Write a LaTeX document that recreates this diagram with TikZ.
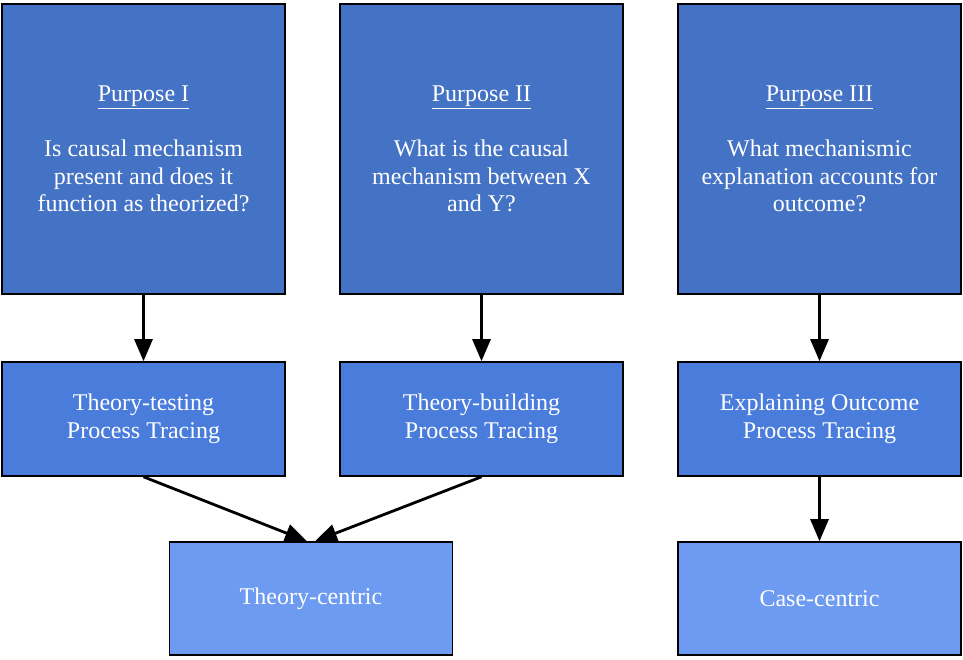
\documentclass[tikz,border=0pt]{standalone}
\usepackage{fontspec}
\setmainfont{Liberation Serif}
\usetikzlibrary{arrows.meta}
\definecolor{topblue}{RGB}{68,114,196}
\definecolor{midblue}{RGB}{74,124,220}
\definecolor{lowblue}{RGB}{109,155,241}
\tikzset{
  box/.style={draw=black, line width=1.6pt, text=white, align=center,
    font=\fontsize{24}{27.5}\selectfont, inner sep=0pt, minimum width=283pt},
  topbox/.style={box, fill=topblue, minimum height=290pt},
  midbox/.style={box, fill=midblue, minimum height=114pt},
  lowbox/.style={box, fill=lowblue, minimum height=113pt},
  conn/.style={line width=2.8pt, -{Triangle[length=22pt,width=18pt]}},
}
\begin{document}
\begin{tikzpicture}[x=1pt,y=-1pt]
\useasboundingbox (0,0) rectangle (963,659);
\node[topbox] (p1) at (143.5,149) {\underline{Purpose I}\\[27.5pt]Is causal mechanism\\present and does it\\function as theorized?};
\node[topbox] (p2) at (481.5,149) {\underline{Purpose II}\\[27.5pt]What is the causal\\mechanism between X\\and Y?};
\node[topbox] (p3) at (819.5,149) {\underline{Purpose III}\\[27.5pt]What mechanismic\\explanation accounts for\\outcome?};
\node[midbox] (t1) at (143.5,419) {Theory-testing\\Process Tracing};
\node[midbox] (t2) at (481.5,419) {Theory-building\\Process Tracing};
\node[midbox] (t3) at (819.5,419) {Explaining Outcome\\Process Tracing};
\node[lowbox] (tc) at (311,598.5) {Theory-centric};
\node[lowbox] (cc) at (819.5,598.5) {Case-centric};
\draw[conn] (p1.south) -- (t1.north);
\draw[conn] (p2.south) -- (t2.north);
\draw[conn] (p3.south) -- (t3.north);
\draw[conn] (t1.south) -- ([xshift=-4pt]tc.north);
\draw[conn] (t2.south) -- ([xshift=4pt]tc.north);
\draw[conn] (t3.south) -- (cc.north);
\end{tikzpicture}
\end{document}
